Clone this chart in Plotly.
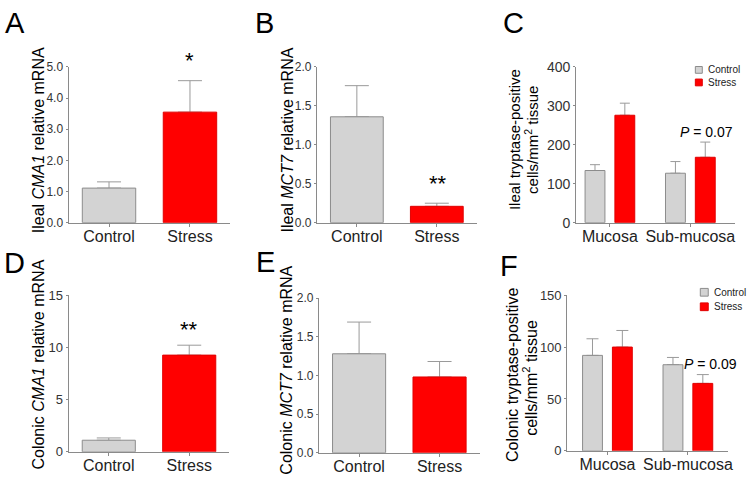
import plotly.graph_objects as go

W, H = 750, 484
FONT = "Liberation Sans, Arial, sans-serif"

# ---------------- data ----------------
groups = ["Control", "Stress"]
tissues = ["Mucosa", "Sub-mucosa"]

a_vals = [1.11, 3.55]
a_err = [0.20, 1.01]
b_vals = [1.36, 0.21]
b_err = [0.40, 0.04]
d_vals = [1.11, 9.26]
d_err = [0.22, 0.95]
e_vals = [1.28, 0.98]
e_err = [0.41, 0.20]

c_control = [134, 127]
c_control_err = [15, 30]
c_stress = [276, 168]
c_stress_err = [31, 39]

f_control = [92, 83]
f_control_err = [16, 7]
f_stress = [100, 65]
f_stress_err = [16, 8.5]

GRAY = "#d3d3d3"
GRAY_LINE = "#8c8c8c"
RED = "#ff0000"
RED_LINE = "#e00000"
ERR = "#9a9a9a"
AX = "#8a8a8a"
CLEAR = "rgba(0,0,0,0)"


def px_x(x):
    return x / W


def px_y(y):
    return 1 - y / H


# panel geometry in pixels: x0, x1, y_top, y_bottom, x-range
geo = {
    "A": (69, 232, 61, 222, [-0.5, 1.5]),
    "B": (319, 480, 61, 222, [-0.5, 1.5]),
    "C": (580, 740, 61, 222, [-0.42, 1.556]),
    "D": (69, 231, 297, 459, [-0.5, 1.5]),
    "E": (321, 483, 300, 460, [-0.5, 1.5]),
    "F": (571, 733, 297, 458, [-0.5, 1.5]),
}
order = ["A", "B", "C", "D", "E", "F"]
yranges = {"A": (5, 1, ".1f", 12), "B": (2, 0.5, ".1f", 12), "C": (400, 100, "", 14),
           "D": (15, 5, "", 13), "E": (2, 0.5, ".1f", 12), "F": (150, 50, "", 13)}
capw = {"A": 12, "B": 12, "D": 12, "E": 12, "C": 5, "F": 6}

fig = go.Figure()
layout = {}

simple = {"A": (a_vals, a_err), "B": (b_vals, b_err), "D": (d_vals, d_err), "E": (e_vals, e_err)}
grouped = {"C": (c_control, c_control_err, c_stress, c_stress_err),
           "F": (f_control, f_control_err, f_stress, f_stress_err)}


def bar_pair(cats, vals, err, width, offset, fill, line, cw, xa, ya):
    # error bars carried by a transparent bar underneath, so the real bar hides the lower cap
    fig.add_trace(go.Bar(
        x=cats, y=vals, width=width, offset=offset,
        marker=dict(color=CLEAR, line=dict(width=0)),
        error_y=dict(type="data", array=err, arrayminus=[0] * len(err), symmetric=False,
                     color=ERR, thickness=1, width=cw),
        xaxis=xa, yaxis=ya, showlegend=False, hoverinfo="skip"))
    fig.add_trace(go.Bar(
        x=cats, y=vals, width=width, offset=offset,
        marker=dict(color=fill, line=dict(color=line, width=1)),
        xaxis=xa, yaxis=ya, showlegend=False, hoverinfo="skip"))


for i, p in enumerate(order):
    n = "" if i == 0 else str(i + 1)
    xa, ya = "x" + n, "y" + n
    x0, x1, yt, yb, xr = geo[p]
    ymax, dt, fmt, tfs = yranges[p]
    if p in simple:
        vals, err = simple[p]
        bar_pair(groups, vals, err, 0.66, -0.33, [GRAY, RED], [GRAY_LINE, RED_LINE], capw[p], xa, ya)
    else:
        cv, ce, sv, se = grouped[p]
        bar_pair(tissues, cv, ce, 0.247, -0.309, GRAY, GRAY_LINE, capw[p], xa, ya)
        bar_pair(tissues, sv, se, 0.247, 0.062, RED, RED_LINE, capw[p], xa, ya)
    layout["xaxis" + n] = dict(
        domain=[px_x(x0), px_x(x1)], anchor=ya, range=xr, type="category",
        showline=True, linecolor=AX, linewidth=1, ticks="outside", ticklen=3, tickcolor=AX,
        ticklabelstandoff=-4,
        showgrid=False, zeroline=False, tickfont=dict(size=16, color="#222", family=FONT),
        fixedrange=True)
    layout["yaxis" + n] = dict(
        domain=[px_y(yb), px_y(yt)], anchor=xa, range=[0, ymax], dtick=dt, tick0=0,
        tickformat=fmt, showline=True, linecolor=AX, linewidth=1, ticks="outside",
        ticklen=2, tickcolor=AX, showgrid=False, zeroline=False,
        tickfont=dict(size=tfs, color="#333", family=FONT), fixedrange=True)

ann = []


def text(x, y, s, size, angle=0, xanchor="center", yanchor="middle", color="#000"):
    ann.append(dict(x=px_x(x), y=px_y(y), xref="paper", yref="paper", text=s,
                    showarrow=False, textangle=angle, xanchor=xanchor, yanchor=yanchor,
                    font=dict(size=size, color=color, family=FONT)))


# panel letters
letters = {"A": (15, 16), "B": (266, 16), "C": (517, 16), "D": (15, 264), "E": (267, 263), "F": (512, 267)}
for k, (x, y) in letters.items():
    text(x, y, k, 29)

# axis titles
text(39, 137, "Ileal <i>CMA1</i> relative mRNA", 16, -90)
text(289, 137, "Ileal <i>MCT7</i> relative mRNA", 16, -90)
text(518, 136, "Ileal tryptase-positive", 15, -90)
text(535, 136, "cells/mm<sup>2</sup> tissue", 15, -90)
text(39, 369, "Colonic <i>CMA1</i> relative mRNA", 16, -90)
text(289, 375, "Colonic <i>MCT7</i> relative mRNA", 16, -90)
text(516, 380, "Colonic tryptase-positive", 16, -90)
text(534, 382, "cells/mm<sup>2</sup> tissue", 16, -90)

# significance
text(191, 54, "*", 22)
text(441, 182, "**", 22)
text(190, 333, "**", 22)
text(711, 128, "<i>P</i> = 0.07", 14)
text(715, 368, "<i>P</i> = 0.09", 14)

# legends
shapes = []


def legend(xs, ys, dy, size, fs):
    for j, (lab, fc, lc) in enumerate([("Control", GRAY, GRAY_LINE), ("Stress", RED, RED_LINE)]):
        yc = ys + j * dy
        shapes.append(dict(type="rect", xref="paper", yref="paper",
                           x0=px_x(xs), x1=px_x(xs + size), y0=px_y(yc + size / 2), y1=px_y(yc - size / 2),
                           fillcolor=fc, line=dict(color=lc, width=1)))
        text(xs + size + 4, yc, lab, fs, xanchor="left", color="#222")


legend(700, 64, 13, 7, 10)
legend(705, 294, 15, 8, 10)

fig.update_layout(**layout)
fig.update_layout(
    width=W, height=H, margin=dict(l=0, r=0, t=0, b=0),
    paper_bgcolor="white", plot_bgcolor="white",
    annotations=ann, shapes=shapes, showlegend=False,
    font=dict(family=FONT),
)

fig.write_html("out.html", config={"displayModeBar": False},
               post_script="document.body.style.margin='0px';document.body.style.padding='0px';")
